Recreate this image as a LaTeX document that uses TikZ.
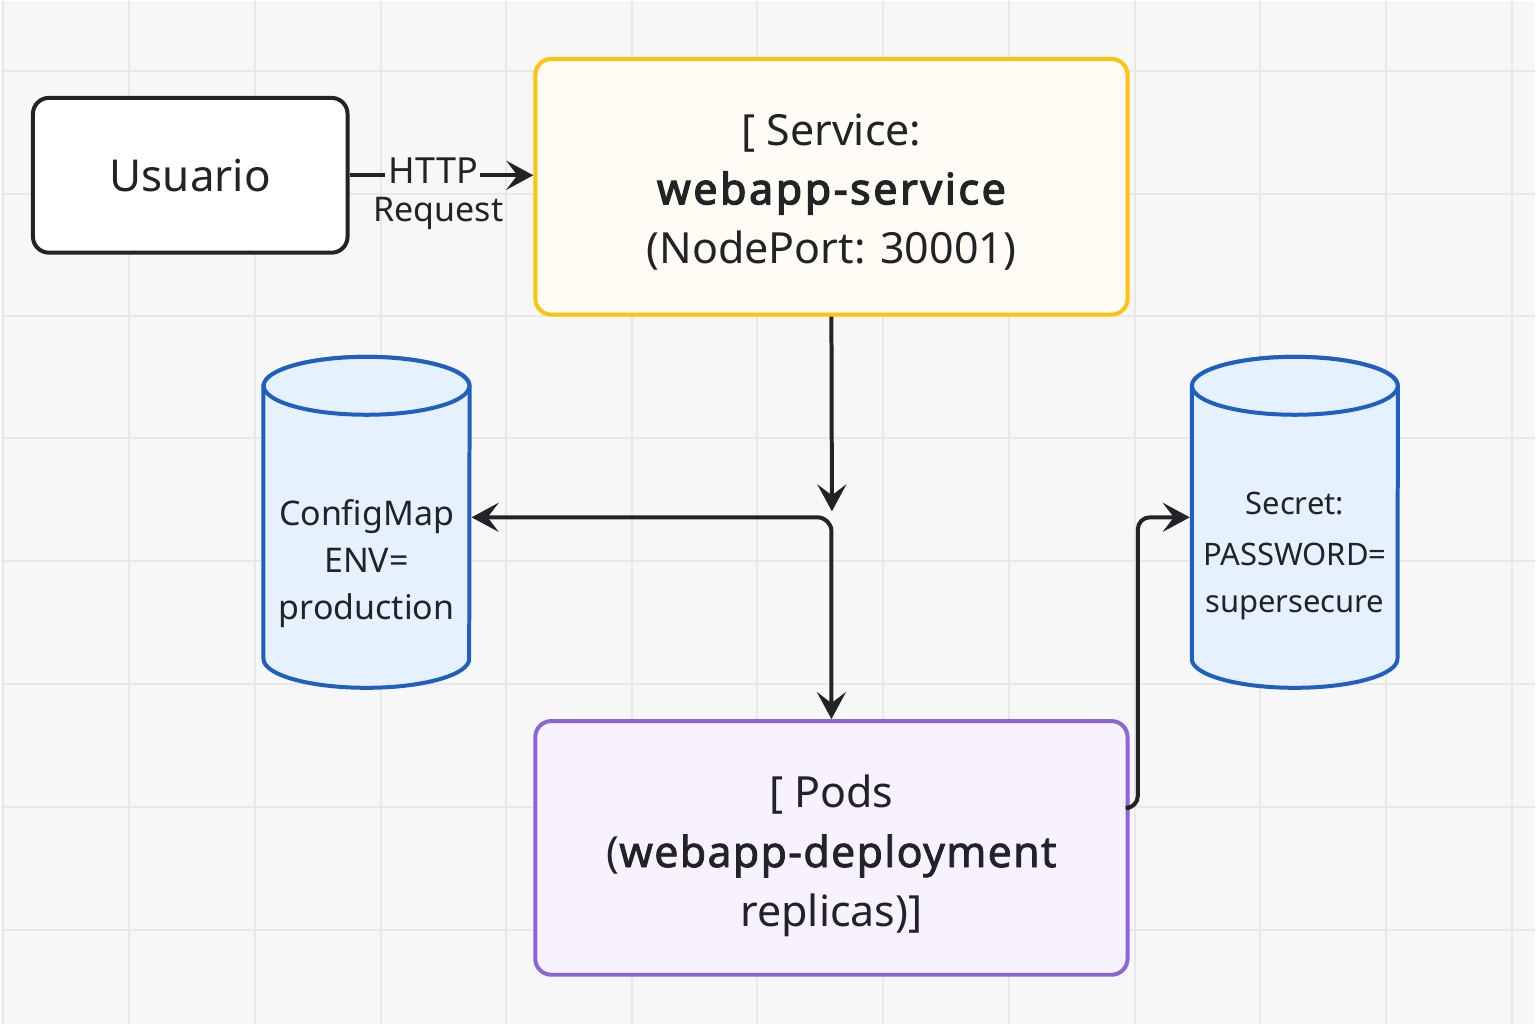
\documentclass[tikz,border=0pt]{standalone}
\usepackage{fontspec}
\setmainfont{Noto Sans}
\newfontfamily\heavyfont{Noto Sans}[FakeBold=3, LetterSpace=6]
\newfontfamily\semifont{Noto Sans}[FakeBold=1.8, LetterSpace=3]
\usetikzlibrary{arrows.meta,calc,backgrounds}
\pgfdeclarelayer{gridlayer}
\pgfdeclarelayer{shapelayer}
\pgfsetlayers{gridlayer,shapelayer,main}
\definecolor{bgc}{HTML}{F7F7F7}
\definecolor{gridc}{HTML}{E8E8E8}
\definecolor{ink}{HTML}{222326}
\definecolor{ylw}{HTML}{FFC20E}
\definecolor{ylwfill}{HTML}{FFFCF5}
\definecolor{prp}{HTML}{8B65D9}
\definecolor{prpfill}{HTML}{F7F2FD}
\definecolor{blu}{HTML}{1F5FBF}
\definecolor{blufill}{HTML}{E5F1FD}
\tikzset{
  x=1pt, y=-1pt,
  boxnode/.style={rectangle, rounded corners=16pt, line width=4pt, align=center, inner sep=0pt},
  usrbox/.style={boxnode, draw=ink, fill=white, minimum width=315pt, minimum height=155pt, font=\fontsize{44}{56}\selectfont},
  svcbox/.style={boxnode, draw=ylw, fill=ylwfill, minimum width=593pt, minimum height=256pt},
  podbox/.style={boxnode, draw=prp, fill=prpfill, minimum width=593pt, minimum height=254pt},
  cylnode/.style={rectangle, inner sep=0pt, minimum width=206pt, minimum height=331pt},
  inner/.style={align=center, inner sep=0pt, text=ink},
  cylline/.style={draw=blu, fill=blufill, line width=4pt},
  conn/.style={draw=ink, line width=4pt},
  tip/.tip={Stealth[length=27pt,width=29pt,inset=11pt]},
  lbl/.style={inner sep=0pt, text=ink}
}
\begin{document}
\begin{tikzpicture}
% background and grid
\begin{pgfonlayer}{gridlayer}
\fill[bgc] (0,0) rectangle (1536,1024);
\foreach \gx in {2,128,254,380,506,632,757,883,1009,1135,1261,1387,1513}
  \draw[gridc, line width=2pt] (\gx,0) -- (\gx,1024);
\foreach \gy in {70,193,315,438,561,684,807,930}
  \draw[gridc, line width=2pt] (0,\gy) -- (1536,\gy);
\end{pgfonlayer}
\useasboundingbox (0,0) rectangle (1536,1024);

% nodes
\node[usrbox, text=ink] (usr) at (189.5,174.5) {Usuario};
\node[svcbox, label={[inner, yshift=-5pt, font=\fontsize{43}{59}\selectfont]center:{[ Service:\\{\heavyfont webapp-service}\\(NodePort: 30001)}}] (svc) at (831.5,186) {};
\node[podbox, label={[inner, yshift=-8pt, font=\fontsize{43}{60}\selectfont]center:{[ Pods\\({\semifont webapp-deployment}\\replicas)]}}] (pods) at (831.5,848) {};
\node[cylnode, label={[inner, yshift=-41pt, font=\fontsize{34}{47}\selectfont]center:{ConfigMap\\ENV=\\production}}] (cfg) at (366,522) {};
\node[cylnode, label={[inner, yshift=-34pt, font=\fontsize{31}{47}\selectfont]center:{\raisebox{4pt}{Secret:}\\PASSWORD=\\supersecure}}] (sec) at (1295.5,522) {};

% cylinders
\begin{pgfonlayer}{shapelayer}
\foreach \c in {cfg,sec}{
  \path[cylline] ($(\c.north west)+(0,29)$) -- ($(\c.south west)+(0,-29)$)
    arc[start angle=180,end angle=360,x radius=103pt,y radius=29pt]
    -- ($(\c.north east)+(0,29)$)
    arc[start angle=0,end angle=180,x radius=103pt,y radius=29pt] -- cycle;
  \draw[draw=blu, fill=blufill, line width=4pt] ($(\c.north)+(0,29)$) ellipse[x radius=103pt,y radius=29pt];
}
\end{pgfonlayer}

% HTTP request connector
\node[lbl, font=\fontsize{36}{40}\selectfont] (http) at (433,170) {HTTP};
\node[lbl, font=\fontsize{34}{40}\selectfont] (req) at (438,213) {Request};
\draw[conn] (usr.east) -- ([xshift=-4pt]usr.east -| http.west);
\draw[conn,-tip] ([xshift=2pt]http.east |- usr.east) -- (svc.west |- usr.east);

% service down
\coordinate (mid) at (832,511);
\draw[conn,-tip] (svc.south) -- (mid);

% configmap <-> pods
\draw[conn,tip-tip,rounded corners=14pt] ([xshift=2pt,yshift=5pt]cfg.east) -| (pods.north);

% pods -> secret
\draw[conn,-tip,rounded corners=12pt] ([yshift=40pt]pods.east) -| ([xshift=-54pt,yshift=5pt]sec.west) -- ([xshift=-2pt,yshift=5pt]sec.west);
\end{tikzpicture}
\end{document}
